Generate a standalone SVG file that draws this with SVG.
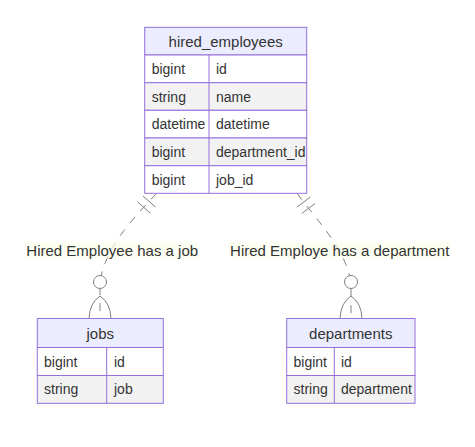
<svg xmlns="http://www.w3.org/2000/svg" width="475" height="447" viewBox="0 0 475 447">
<style>
.bg{fill:#ffffff}
.hdr{fill:#ECECFF;stroke:#9370DB;stroke-width:1}
.odd{fill:#ffffff;stroke:#9370DB;stroke-width:1}
.even{fill:#f2f2f2;stroke:#9370DB;stroke-width:1}
.col{stroke:#9370DB;stroke-width:1}
.title{font-family:"Liberation Sans",Arial,sans-serif;font-size:15px;fill:#333333;text-anchor:middle;dominant-baseline:central}
.attr{font-family:"Liberation Sans",Arial,sans-serif;font-size:14px;fill:#333333;dominant-baseline:central}
.rel{fill:none;stroke:#808080;stroke-width:1;stroke-dasharray:8,8}
.mk{fill:none;stroke:#808080;stroke-width:1}
.circ{fill:#ffffff;stroke:#808080;stroke-width:1}
.lblbox{fill:#f9ffec;opacity:0.7}
.lbl{font-family:"Liberation Sans",Arial,sans-serif;font-size:15px;fill:#333333;text-anchor:middle;dominant-baseline:central}
</style>
<rect class="bg" x="0" y="0" width="475" height="447"/>

<g id="connectors">
  <path class="rel" d="M156.5,193.3 C130,222 105,248 100,282 L100,318.5"/>
  <path class="mk" d="M142.9,195.9 L155.6,207.2 M137.6,201.9 L150.4,213.2"/>
  <circle class="circ" cx="100" cy="282" r="6.5"/>
  <path class="mk" d="M89,318.5 Q89.5,303 100,296 M111,318.5 Q110.5,303 100,296"/>
  <rect class="lblbox" x="26.7" y="241.7" width="171" height="16.6"/>
  <text class="lbl" x="112.2" y="250">Hired Employee has a job</text>

  <path class="rel" d="M297,193.3 C318,222 345,248 351,282 L351,318.5"/>
  <path class="mk" d="M296.8,207.2 L310.4,197 M301.6,213.6 L315.2,203.4"/>
  <circle class="circ" cx="351" cy="282" r="6.5"/>
  <path class="mk" d="M340,318.5 Q340.5,303 351,296 M362,318.5 Q361.5,303 351,296"/>
  <rect class="lblbox" x="229.3" y="241.7" width="220.7" height="16.6"/>
  <text class="lbl" x="339.7" y="250">Hired Employe has a department</text>
</g>

<g id="hired_employees">
  <rect class="hdr" x="144.7" y="27.3" width="162" height="27.7"/>
  <rect class="odd" x="144.7" y="55" width="162" height="27.7"/>
  <rect class="even" x="144.7" y="82.7" width="162" height="27.6"/>
  <rect class="odd" x="144.7" y="110.3" width="162" height="27.7"/>
  <rect class="even" x="144.7" y="138" width="162" height="27.7"/>
  <rect class="odd" x="144.7" y="165.7" width="162" height="27.6"/>
  <line class="col" x1="209" y1="55" x2="209" y2="193.3"/>
  <text class="title" x="225.7" y="41.2">hired_employees</text>
  <text class="attr" x="151.7" y="68.8">bigint</text>
  <text class="attr" x="216" y="68.8">id</text>
  <text class="attr" x="151.7" y="96.5">string</text>
  <text class="attr" x="216" y="96.5">name</text>
  <text class="attr" x="151.7" y="124.1">datetime</text>
  <text class="attr" x="216" y="124.1">datetime</text>
  <text class="attr" x="151.7" y="151.8">bigint</text>
  <text class="attr" x="216" y="151.8">department_id</text>
  <text class="attr" x="151.7" y="179.5">bigint</text>
  <text class="attr" x="216" y="179.5">job_id</text>
</g>

<g id="jobs">
  <rect class="hdr" x="37.3" y="318.5" width="126" height="29"/>
  <rect class="odd" x="37.3" y="347.5" width="126" height="28"/>
  <rect class="even" x="37.3" y="375.5" width="126" height="27.8"/>
  <line class="col" x1="106.7" y1="347.5" x2="106.7" y2="403.3"/>
  <text class="title" x="100.3" y="333">jobs</text>
  <text class="attr" x="44" y="361.5">bigint</text>
  <text class="attr" x="114" y="361.5">id</text>
  <text class="attr" x="44" y="389.4">string</text>
  <text class="attr" x="114" y="389.4">job</text>
</g>

<g id="departments">
  <rect class="hdr" x="286.7" y="318.5" width="128.3" height="29"/>
  <rect class="odd" x="286.7" y="347.5" width="128.3" height="28"/>
  <rect class="even" x="286.7" y="375.5" width="128.3" height="27.8"/>
  <line class="col" x1="334.3" y1="347.5" x2="334.3" y2="403.3"/>
  <text class="title" x="350.8" y="333">departments</text>
  <text class="attr" x="293.5" y="361.5">bigint</text>
  <text class="attr" x="341" y="361.5">id</text>
  <text class="attr" x="293.5" y="389.4">string</text>
  <text class="attr" x="341" y="389.4">department</text>
</g>
</svg>
